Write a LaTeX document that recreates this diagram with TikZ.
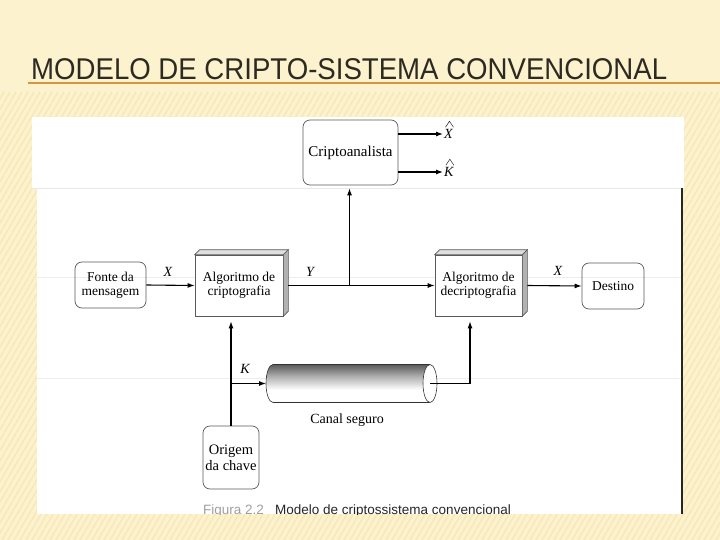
\documentclass[tikz,border=0pt]{standalone}
\usepackage{fontspec}
\setmainfont{Liberation Serif}
\newfontfamily\titlefont[FakeStretch=0.92]{Liberation Sans}
\newfontfamily\capfont{Liberation Sans}
\usetikzlibrary{arrows.meta,calc}
\definecolor{bgcream}{RGB}{252,242,206}
\definecolor{stripecol}{RGB}{238,212,140}
\definecolor{titlecol}{RGB}{45,42,34}
\definecolor{rulecol}{RGB}{214,150,62}
\definecolor{boxline}{RGB}{90,90,90}
\pgfdeclareverticalshading{cylshade}{100bp}{color(0bp)=(gray!55); color(28bp)=(white); color(42bp)=(white); color(60bp)=(gray!65); color(80bp)=(black!75); color(100bp)=(black!92)}
\begin{document}
\begin{tikzpicture}[x=1pt,y=-1pt,
  rbox/.style={draw=boxline, line width=0.7pt, rounded corners=7pt, inner sep=0pt, align=center, font=\fontsize{13.5}{14}\selectfont},
  algbox/.style={draw=boxline, line width=0.7pt, fill=white, inner sep=0pt, align=center, minimum width=88pt, minimum height=61pt, font=\fontsize{13.5}{14.5}\selectfont},
  arr/.style={-{Latex[length=7pt,width=5pt]}, line width=1.1pt},
  lbl/.style={font=\fontsize{14}{14}\selectfont\itshape, inner sep=1pt},
  hatmark/.style={line width=0.5pt, black!85}]
\useasboundingbox (0,0) rectangle (720,540);
% background
\fill[bgcream] (0,0) rectangle (720,540);
\begin{scope}
  \clip (0,92) rectangle (720,540);
  \foreach \i in {-640,-634,...,720} \draw[stripecol, line width=1.3pt, opacity=0.35] (\i,540) -- (\i+260,92);
\end{scope}
% title
\node[anchor=base west, font=\titlefont\fontsize{30}{30}\selectfont, text=titlecol, inner sep=0pt] (title) at (31,80) {MODELO DE CRIPTO-SISTEMA CONVENCIONAL};
\draw[rulecol, line width=1.2pt] (28,83) -- (720,83);
% white panel
\fill[white] (32,117) rectangle (684,188);
\fill[white] (37,188) rectangle (683,514);
\draw[black!9, line width=0.6pt] (32,188) -- (683,188);
\draw[black!7, line width=0.6pt] (37,277) -- (683,277);
\draw[black!7, line width=0.6pt] (37,378) -- (683,378);
\draw[black!85, line width=1.3pt] (682,188) -- (682,514);
% nodes
\node[rbox, minimum width=95pt, minimum height=65pt, font=\fontsize{15}{15}\selectfont] (crip) at (350.5,152.5) {Criptoanalista};
\node[rbox, minimum width=71pt, minimum height=46pt] (fonte) at (110.5,285) {Fonte da\\mensagem};
\node[algbox] (enc) at (239,285.5) {Algoritmo de\\criptografia};
\node[algbox, minimum width=87pt] (dec) at (478.5,285.5) {Algoritmo de\\decriptografia};
\node[rbox, minimum width=62pt, minimum height=46pt] (dest) at (613,286) {Destino};
\node[rbox, minimum width=56pt, minimum height=63pt, font=\fontsize{14.5}{16}\selectfont] (orig) at (231,457.5) {Origem\\da chave};
% 3D faces
\foreach \b in {enc,dec}{
  \draw[boxline, line width=0.7pt, fill=gray!25] (\b.north west) -- ++(5,-5) -- ($(\b.north east)+(5,-5)$) -- (\b.north east) -- cycle;
  \draw[boxline, line width=0.7pt, fill=gray!60] (\b.north east) -- ++(5,-5) -- ($(\b.south east)+(5,-5)$) -- (\b.south east) -- cycle;
}
% labels
\node[lbl, anchor=west] (xh) at (443,134) {X};
\node[lbl, anchor=west] (kh) at (443,172) {K};
\draw[hatmark] ($(xh.north)+(-3,-1)$) -- ($(xh.north)+(1,-7)$) -- ($(xh.north)+(5,-1)$);
\draw[hatmark] ($(kh.north)+(-3,-1)$) -- ($(kh.north)+(1,-7)$) -- ($(kh.north)+(5,-1)$);
\node[lbl] (lx1) at (168,272) {X};
\node[lbl] (ly) at (310,272) {Y};
\node[lbl] (lx2) at (558,271) {X};
\node[lbl] (lk) at (245,369) {K};
% cylinder (secure channel)
\coordinate (cylw) at (266,383.5);
\coordinate (cyle) at (430,383.5);
\shade[shading=cylshade] ($(cyle)+(0,-19)$) -- ($(cylw)+(7,-19)$) arc[start angle=90,end angle=270,x radius=7pt,y radius=19pt] -- ($(cyle)+(0,19)$) -- cycle;
\draw[black!80, line width=0.6pt] ($(cyle)+(0,-19)$) -- ($(cylw)+(7,-19)$) arc[start angle=90,end angle=270,x radius=7pt,y radius=19pt] -- ($(cyle)+(0,19)$);
\draw[black!80, line width=0.6pt, fill=white] (cyle) ellipse[x radius=7pt, y radius=19pt];
\node[font=\fontsize{14}{14}\selectfont] (canal) at (347,420) {Canal seguro};
% connectors
\coordinate (jy) at (349.5,285);
\coordinate (dk) at (470,383.5);
\draw[arr] (fonte.east) -- (enc.west);
\draw[arr] ($(enc.east)+(5,0)$) -- (dec.west);
\draw[arr, shorten >=3pt] (jy) -- (jy |- crip.south);
\draw[arr] (crip.east |- xh) -- (xh.west);
\draw[arr] (crip.east |- kh) -- (kh.west);
\draw[arr] ($(dec.east)+(5,0)$) -- (dest.west);
\draw[arr, shorten >=5pt] (orig.north) -- (orig.north |- enc.south);
\draw[arr] (orig.north |- cylw) -- (cylw);
\draw[arr, shorten >=5pt] (cyle) -- (dk) -- (dk |- dec.south);
% caption (cut off)
\begin{scope}
  \clip (37,188) rectangle (683,514);
  \node[anchor=base west, inner sep=0pt, font=\capfont\fontsize{13.5}{14}\selectfont, text=gray!75] (capfig) at (203,514) {Figura 2.2};
  \node[anchor=base west, inner sep=0pt, font=\capfont\fontsize{13.5}{14}\selectfont, text=black!85] (captxt) at (275,514) {Modelo de criptossistema convencional};
\end{scope}
\end{tikzpicture}
\end{document}
